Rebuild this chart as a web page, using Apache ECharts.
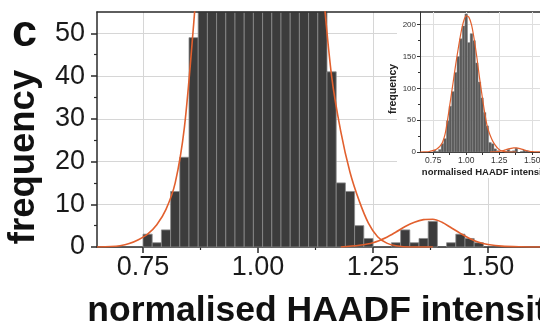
<!DOCTYPE html>
<html><head><meta charset="utf-8">
<script src="https://cdn.jsdelivr.net/npm/echarts@6/dist/echarts.min.js"></script>
<style>html,body{margin:0;padding:0;background:#fff}#c{width:540px;height:327px}</style>
</head><body><div id="c"></div>
<script>
// ---- data ----
const binCenters = [0.76,0.78,0.80,0.82,0.84,0.86,0.88,0.90,0.92,0.94,0.96,0.98,1.00,1.02,1.04,1.06,1.08,1.10,1.12,1.14,1.16,1.18,1.20,1.22,1.24,1.26,1.28,1.30,1.32,1.34,1.36,1.38,1.40,1.42,1.44,1.46,1.48];
const counts     = [3,1,4,13,21,49,72,95,125,150,178,198,217,172,186,175,140,110,85,62,41,15,13,5,2,0,0,1,4,1,2,6,0,1,3,2,1];
const BIN_WIDTH = 0.02;

const fit1X = [0.65,0.68,0.70,0.72,0.74,0.76,0.78,0.80,0.82,0.84,0.86,0.88,0.90,0.92,0.94,0.96,0.98,1.00,1.02,1.04,1.06,1.08,1.10,1.12,1.14,1.16,1.18,1.20,1.22,1.24,1.26,1.28,1.30,1.33,1.38];
const fit1Y = [0,0.1,0.3,0.8,1.7,3.0,5.2,8.8,15,28,52,80,108,137,163,187,205,214,212,200,178,150,118,89,62,40,27,17.5,10.8,5.6,2.4,0.9,0.3,0,0];
const fit2X = [1.18,1.22,1.25,1.28,1.30,1.32,1.34,1.36,1.38,1.40,1.42,1.44,1.46,1.48,1.50,1.53,1.57,1.62,1.65];
const fit2Y = [0,0.4,1.0,2.3,3.5,4.8,5.8,6.4,6.5,5.8,4.5,3.2,2.0,1.1,0.6,0.2,0.05,0,0];

const xMajor = [0.75,1.00,1.25,1.50];
const xMinor = [0.875,1.125,1.375,1.625];
const yMajor = [0,10,20,30,40,50];
const yMinor = [5,15,25,35,45];
const insetYMajor = [0,50,100,150,200];
const insetYMinor = [25,75,125,175];
const insetXTop = [0.75,0.875,1.00,1.125,1.25,1.375,1.50,1.625];

// ---- chart ----
const FONT = 'Liberation Sans';
const barsData = binCenters.map((c,i)=>[c,counts[i]]);
const pairs = (xs,ys)=>xs.map((x,i)=>[x,ys[i]]);

function barRenderer(fill, stroke, lw){
  return function(params, api){
    const c = api.value(0), v = api.value(1);
    if (!(v > 0)) return null;
    const a = api.coord([c - BIN_WIDTH/2, v]);
    const b = api.coord([c + BIN_WIDTH/2, 0]);
    const cs = params.coordSys;
    const shape = echarts.graphic.clipRectByRect(
      {x:a[0], y:a[1], width:b[0]-a[0], height:b[1]-a[1]},
      {x:cs.x, y:cs.y, width:cs.width, height:cs.height});
    if (!shape) return null;
    return {type:'rect', shape:shape, style:{fill:fill, stroke:stroke, lineWidth:lw}};
  };
}

const chart = echarts.init(document.getElementById('c'));
const AX = '#2a2a2a', GRID = '#d6d6d6', CURVE = '#e2602e';
chart.setOption({
  animation:false,
  backgroundColor:'#fff',
  grid:[
    {left:97, top:12, right:-17, bottom:80, outerBoundsMode:'none', containLabel:false},
    {left:420, top:12, right:-12, bottom:175, outerBoundsMode:'none', containLabel:false}
  ],
  xAxis:[
    {gridIndex:0, type:'value', min:0.65, max:1.65, z:1,
     axisLine:{lineStyle:{color:AX,width:1.5}},
     axisTick:{customValues:xMajor, length:6, lineStyle:{color:AX,width:1.5}},
     axisLabel:{customValues:xMajor, formatter:v=>v.toFixed(2), fontFamily:FONT, fontSize:27, color:'#1a1a1a', margin:7},
     splitLine:{show:true, lineStyle:{color:GRID,width:1}},
     name:'normalised HAADF intensity', nameLocation:'middle', nameGap:46,
     nameTextStyle:{fontFamily:FONT, fontWeight:'bold', fontSize:35.5, color:'#111'}},
    {gridIndex:0, type:'value', min:0.65, max:1.65, position:'bottom', z:1,
     axisLine:{show:false}, axisLabel:{show:false}, splitLine:{show:false},
     axisTick:{customValues:xMinor, length:3, lineStyle:{color:AX,width:1.2}}},
    {gridIndex:0, type:'value', min:0.65, max:1.65, position:'top', z:3,
     axisLine:{lineStyle:{color:AX,width:1.5}}, axisLabel:{show:false}, axisTick:{show:false}, splitLine:{show:false}},
    {gridIndex:1, type:'value', min:0.65, max:1.65, z:12,
     axisLine:{lineStyle:{color:'#333',width:1}},
     axisTick:{customValues:xMajor, length:3, lineStyle:{color:'#333'}},
     axisLabel:{customValues:xMajor, formatter:v=>v.toFixed(2), fontFamily:FONT, fontSize:8.5, color:'#333', margin:4},
     splitLine:{show:true, lineStyle:{color:'#dedede',width:1}},
     name:'normalised HAADF intensity', nameLocation:'middle', nameGap:15,
     nameTextStyle:{fontFamily:FONT, fontWeight:'bold', fontSize:9.5, color:'#222'}},
    {gridIndex:1, type:'value', min:0.65, max:1.65, position:'top', z:12,
     axisLine:{lineStyle:{color:'#333',width:1}}, axisLabel:{show:false}, splitLine:{show:false},
     axisTick:{customValues:insetXTop, inside:true, length:3, lineStyle:{color:'#333'}}}
  ],
  yAxis:[
    {gridIndex:0, type:'value', min:0, max:55, z:1,
     axisLine:{show:true, lineStyle:{color:AX,width:1.5}},
     axisTick:{show:true, customValues:yMajor, length:6, lineStyle:{color:AX,width:1.5}},
     axisLabel:{customValues:yMajor, fontFamily:FONT, fontSize:27, color:'#1a1a1a', margin:12},
     splitLine:{show:true, lineStyle:{color:GRID,width:1}}},
    {gridIndex:0, type:'value', min:0, max:55, position:'left', z:1,
     axisLine:{show:false}, axisLabel:{show:false}, splitLine:{show:false},
     axisTick:{show:true, customValues:yMinor, length:3, lineStyle:{color:AX,width:1.2}}},
    {gridIndex:1, type:'value', min:0, max:220, z:12,
     axisLine:{show:true, lineStyle:{color:'#333',width:1}},
     axisTick:{show:true, customValues:insetYMajor, length:3, lineStyle:{color:'#333'}},
     axisLabel:{customValues:insetYMajor, fontFamily:FONT, fontSize:8, color:'#333', margin:4},
     splitLine:{show:true, lineStyle:{color:'#dedede',width:1}}},
    {gridIndex:1, type:'value', min:0, max:220, position:'left', z:12,
     axisLine:{show:false}, axisLabel:{show:false}, splitLine:{show:false},
     axisTick:{show:true, customValues:insetYMinor, length:2, lineStyle:{color:'#333'}}}
  ],
  graphic:{elements:[
    {type:'rect', z:10, shape:{x:397, y:13, width:143, height:165}, style:{fill:'#fff'}},
    {type:'text', z:20, x:12, y:34, style:{text:'c', font:'bold 45px Liberation Sans', fill:'#111', verticalAlign:'middle'}},
    {type:'text', z:20, x:24, y:157, rotation:Math.PI/2, style:{text:'frequency', font:'bold 36.5px Liberation Sans', fill:'#111', align:'center', verticalAlign:'middle'}},
    {type:'text', z:20, x:393, y:89, rotation:Math.PI/2, style:{text:'frequency', font:'bold 10.5px Liberation Sans', fill:'#222', align:'center', verticalAlign:'middle'}}
  ]},
  series:[
    {type:'custom', xAxisIndex:0, yAxisIndex:0, z:2, renderItem:barRenderer('#3c3c3c','#8c8c8c',0.8), data:barsData},
    {type:'line', xAxisIndex:0, yAxisIndex:0, z:3, data:pairs(fit1X,fit1Y), smooth:0.3, showSymbol:false, clip:true, lineStyle:{color:CURVE,width:1.6}},
    {type:'line', xAxisIndex:0, yAxisIndex:0, z:3, data:pairs(fit2X,fit2Y), smooth:0.3, showSymbol:false, clip:true, lineStyle:{color:CURVE,width:1.6}},
    {type:'custom', xAxisIndex:3, yAxisIndex:2, z:13, renderItem:barRenderer('#595959','#8a8a8a',0.4), data:barsData},
    {type:'line', xAxisIndex:3, yAxisIndex:2, z:14, data:pairs(fit1X,fit1Y), smooth:0.3, showSymbol:false, clip:true, lineStyle:{color:CURVE,width:1.2}},
    {type:'line', xAxisIndex:3, yAxisIndex:2, z:14, data:pairs(fit2X,fit2Y), smooth:0.3, showSymbol:false, clip:true, lineStyle:{color:CURVE,width:1.2}}
  ]
});
</script></body></html>
